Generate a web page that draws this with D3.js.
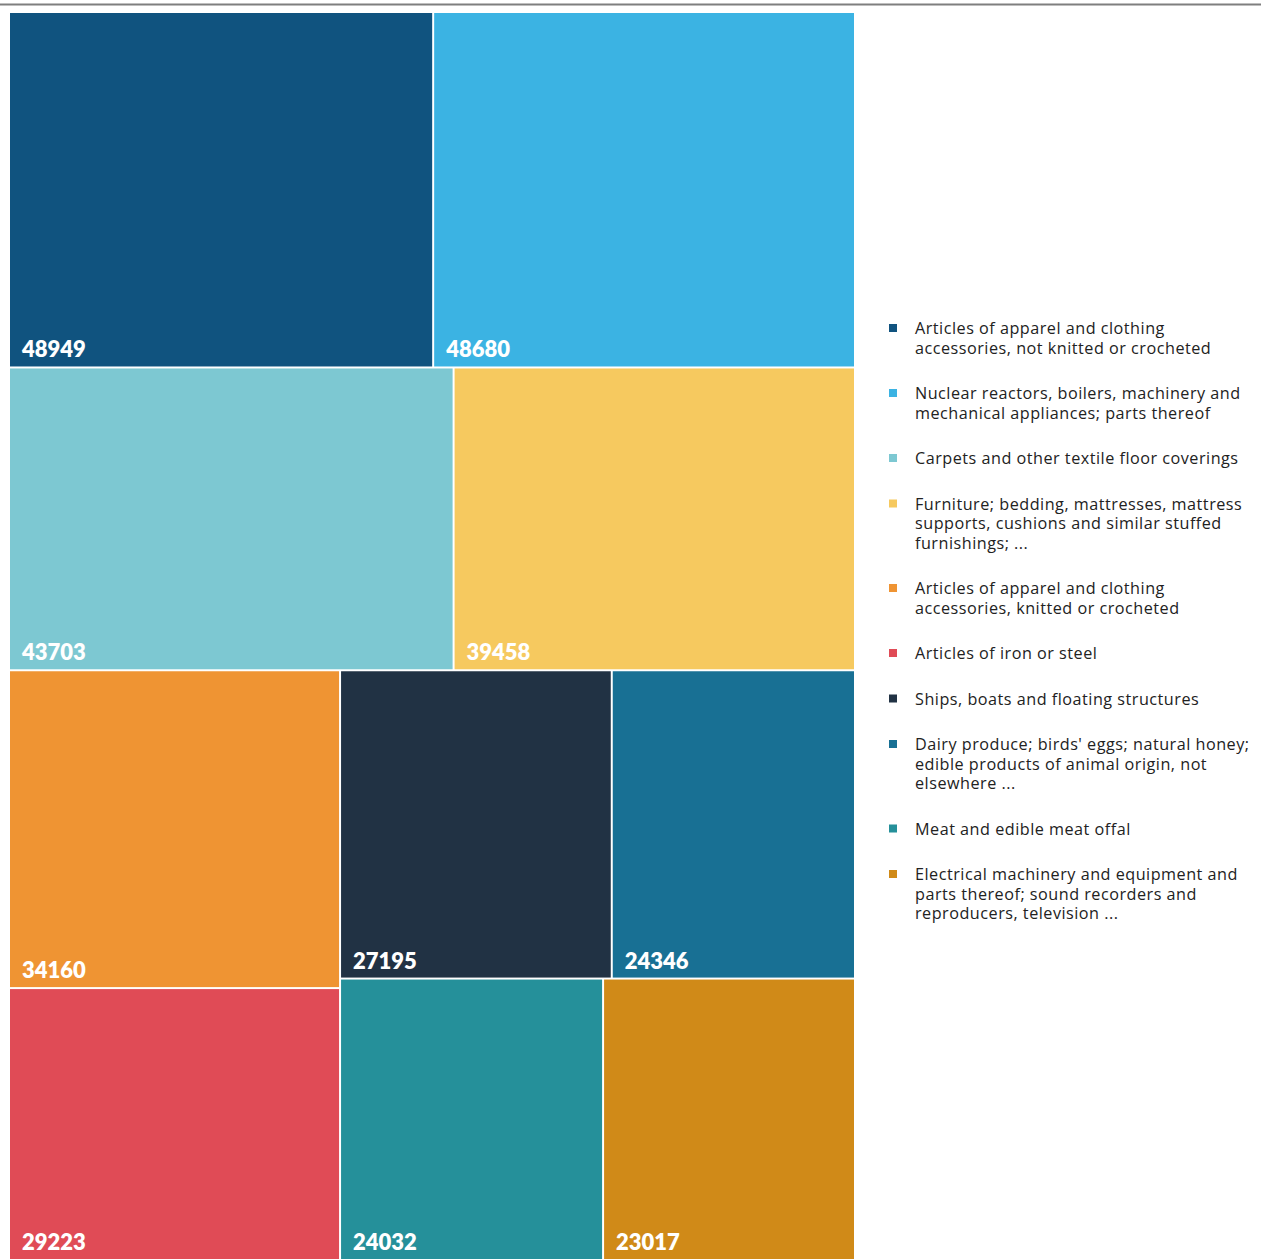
<!DOCTYPE html>
<html>
<head>
<meta charset="utf-8">
<script src="https://cdn.jsdelivr.net/npm/d3@7"></script>
<style>
  html, body { margin: 0; padding: 0; background: #fff; }
  svg { display: block; }
</style>
</head>
<body>
<svg id="chart" width="1261" height="1259"></svg>
<script>
// Product categories (line breaks mark legend wrapping)
const categories = [
  "Articles of apparel and clothing\naccessories, not knitted or crocheted",
  "Nuclear reactors, boilers, machinery and\nmechanical appliances; parts thereof",
  "Carpets and other textile floor coverings",
  "Furniture; bedding, mattresses, mattress\nsupports, cushions and similar stuffed\nfurnishings; ...",
  "Articles of apparel and clothing\naccessories, knitted or crocheted",
  "Articles of iron or steel",
  "Ships, boats and floating structures",
  "Dairy produce; birds' eggs; natural honey;\nedible products of animal origin, not\nelsewhere ...",
  "Meat and edible meat offal",
  "Electrical machinery and equipment and\nparts thereof; sound recorders and\nreproducers, television ..."
];
const values = [48949, 48680, 43703, 39458, 34160, 29223, 27195, 24346, 24032, 23017];
const colors = ["#10537f", "#3bb3e3", "#7dc8d2", "#f6c95f", "#ef9433", "#e04b56", "#213244", "#187094", "#25909a", "#d08a18"];

const svg = d3.select("#chart");
const labelFont = "Lato, 'Open Sans', sans-serif";
const legendFont = "'Open Sans', Roboto, sans-serif";

// top rule
svg.append("line")
  .attr("x1", 0).attr("x2", 1261).attr("y1", 4.5).attr("y2", 4.5)
  .attr("stroke", "#7f7f7f").attr("stroke-width", 2);

const items = categories.map((c, i) => ({ name: c, value: values[i], color: colors[i], index: i }));

const root = d3.hierarchy({ children: items })
  .sum(d => d.value || 0)
  .sort((a, b) => b.value - a.value);

d3.treemap()
  .tile(d3.treemapSquarify.ratio(1))
  .size([844, 1246])
  .paddingInner(2)(root);

const g = svg.append("g").attr("transform", "translate(10,13)");

const cell = g.selectAll("g.cell")
  .data(root.leaves())
  .join("g")
  .attr("class", "cell");

cell.append("rect")
  .attr("x", d => d.x0)
  .attr("y", d => d.y0)
  .attr("width", d => d.x1 - d.x0)
  .attr("height", d => d.y1 - d.y0)
  .attr("fill", d => d.data.color);

cell.append("text")
  .attr("x", d => d.x0 + 12)
  .attr("y", d => d.y1 - 9)
  .attr("fill", "#fff")
  .attr("font-family", labelFont)
  .attr("font-weight", 800)
  .attr("font-size", 22)
  .text(d => d.data.value);

// legend
const legend = svg.append("g").attr("transform", "translate(889,0)");
const lineH = 19.5;
let y = 334;
items.forEach(d => {
  const lines = d.name.split("\n");
  const gi = legend.append("g");
  gi.append("rect")
    .attr("x", 0).attr("y", y - 10)
    .attr("width", 8).attr("height", 8)
    .attr("fill", d.color);
  const t = gi.append("text")
    .attr("font-family", legendFont)
    .attr("font-size", 16.2)
    .attr("letter-spacing", 0.5)
    .attr("fill", "#222");
  lines.forEach((ln, k) => {
    t.append("tspan").attr("x", 26).attr("y", y + k * lineH).text(ln);
  });
  y += lines.length * lineH + 26;
});
</script>
</body>
</html>
